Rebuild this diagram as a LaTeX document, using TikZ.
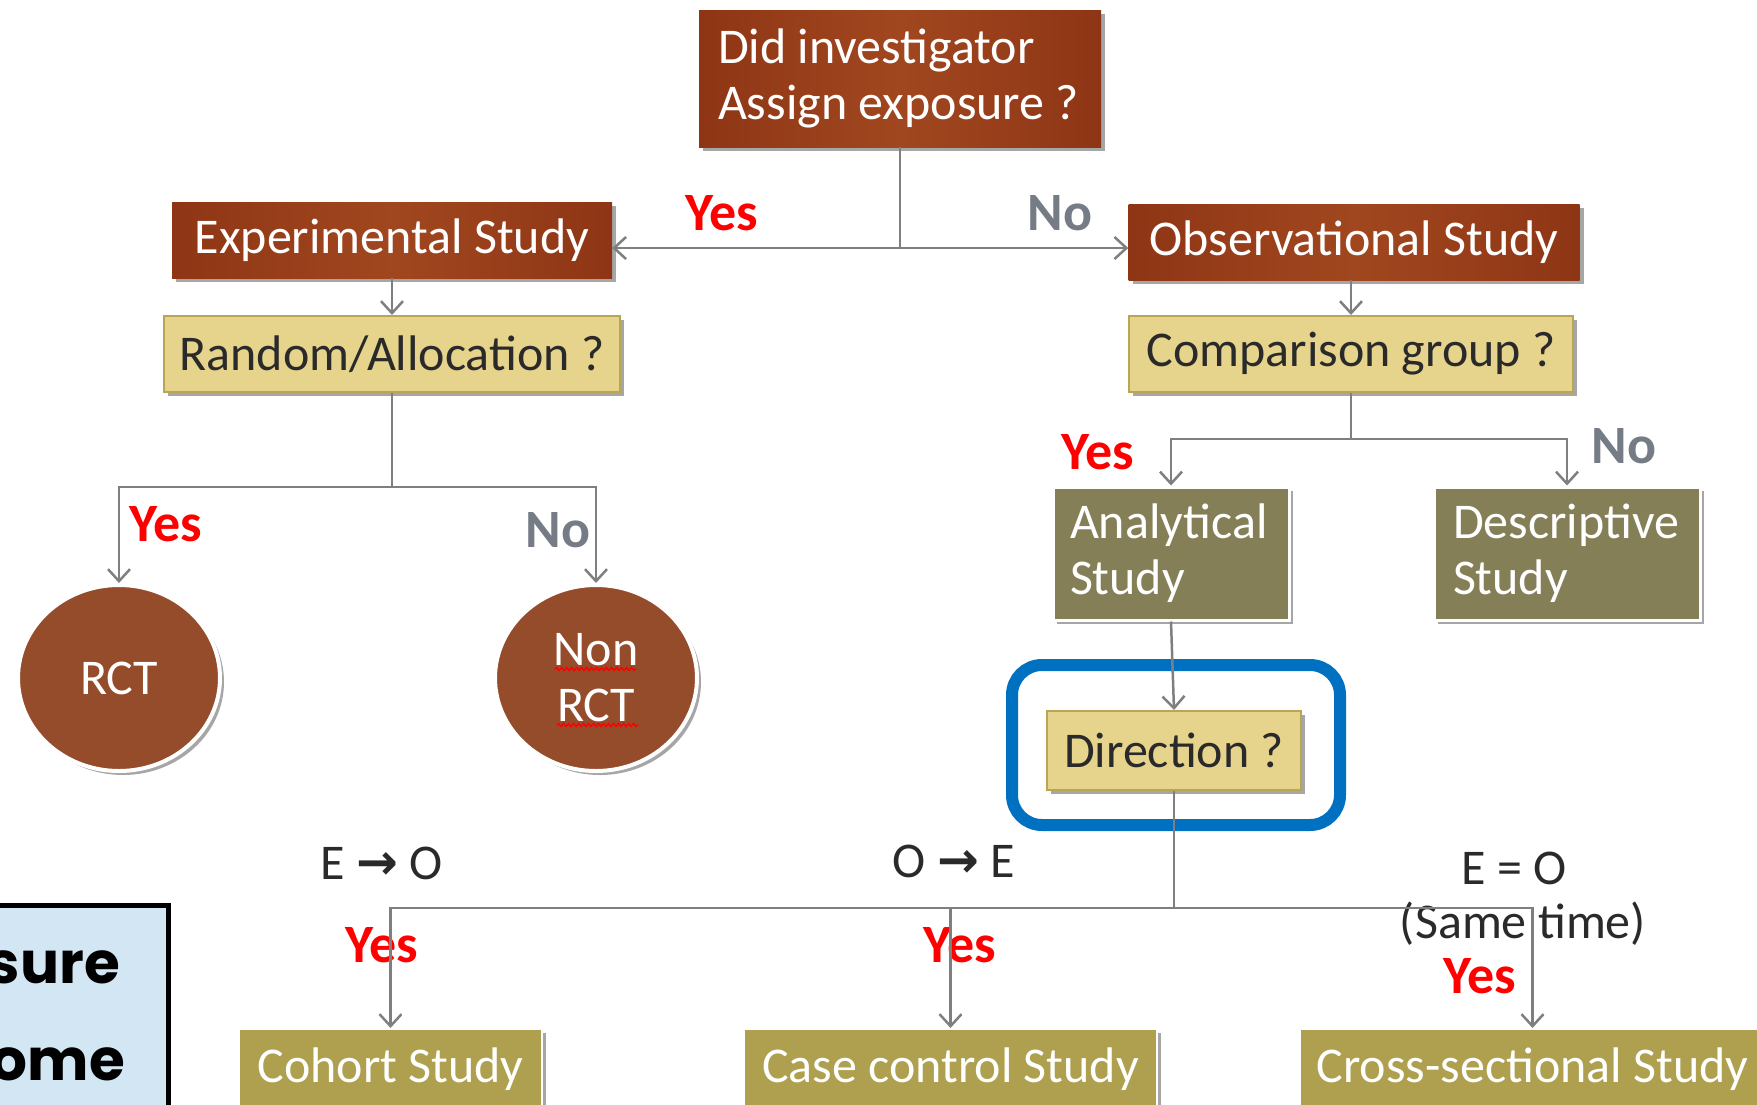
\documentclass[tikz,border=0pt]{standalone}
\usepackage{fontspec}
\setmainfont{Carlito}
\newfontfamily\dejavu{DejaVu Sans}
\newfontfamily\gothic{Poppins}
\usetikzlibrary{arrows.meta,shadows,shapes.geometric,decorations.pathmorphing}
\definecolor{cBrown}{HTML}{A1471F}
\definecolor{cBrownD}{HTML}{8E3515}
\definecolor{cYel}{HTML}{E6D38C}
\definecolor{cYelB}{HTML}{B8A655}
\definecolor{cOlive}{HTML}{857F58}
\definecolor{cGold}{HTML}{AFA04F}
\definecolor{cCirc}{HTML}{954C2B}
\definecolor{cBlue}{HTML}{0070C0}
\definecolor{cLight}{HTML}{D3E6F4}
\definecolor{cLine}{HTML}{7F7F7F}
\definecolor{cNo}{HTML}{767C86}
\definecolor{cTxt}{HTML}{2A2A2A}
\newcommand\myfs{\fontsize{50}{56}\selectfont}
\begin{document}
\begin{tikzpicture}[x=1pt,y=-1pt,
  shd/.style={drop shadow={shadow xshift=4pt,shadow yshift=-4pt,opacity=.35,fill=black}},
  bbox/.style={shd,left color=cBrownD,right color=cBrownD,middle color=cBrown,text=white,font=\myfs,inner sep=0},
  ybox/.style={shd,fill=cYel,draw=cYelB,line width=2,text=cTxt,font=\myfs,inner sep=0},
  obox/.style={shd,fill=cOlive,draw=white,line width=3,text=white,font=\myfs,inner ysep=0},
  gbox/.style={shd,fill=cGold,draw=white,line width=2,text=white,font=\myfs,inner sep=0},
  circ/.style={ellipse,shd,fill=cCirc,draw=white,line width=4,text=white,font=\myfs,minimum width=202,minimum height=186,inner sep=0,align=center},
  conn/.style={draw=cLine,line width=2.5},
  arr/.style={-{Straight Barb[length=12pt,width=22pt,line width=2.5pt]}},
  yes/.style={text=red,font=\fontsize{54}{58}\selectfont\bfseries,inner sep=0},
  nolab/.style={text=cNo,font=\fontsize{54}{58}\selectfont\bfseries,inner sep=0},
  lab/.style={text=cTxt,font=\myfs,inner sep=0}]
\useasboundingbox (0,0) rectangle (1757,1104);
\clip (0,0) rectangle (1757,1104);
% boxes
\node[bbox,minimum width=402,minimum height=137,text width=364,inner xsep=19,align=left] (top) at (900,78.5) {\spaceskip=0pt\relax Did investigator\\Assign exposure ?};
\node[bbox,minimum width=440,minimum height=76] (exp) at (392,240) {Experimental Study};
\node[bbox,minimum width=451,minimum height=76] (obs) at (1354,242) {Observational Study};
\node[ybox,minimum width=456,minimum height=76] (rand) at (392,354) {Random/Allocation ?};
\node[ybox,minimum width=444,minimum height=76] (comp) at (1351,354) {Comparison group ?};
\node[circ] (rct) at (119,678) {RCT};
\node[circ] (non) at (596,678) {Non\\RCT};
\node[obox,minimum width=236,minimum height=133,text width=202,inner xsep=17,align=left] (anal) at (1171,553.5) {\spaceskip=0pt\relax Analytical\\Study};
\node[obox,minimum width=266,minimum height=133,text width=228,inner xsep=19,align=left] (desc) at (1567,553.5) {\spaceskip=0pt\relax Descriptive\\Study};
\node[ybox,minimum width=254,minimum height=79] (dir) at (1174,750.5) {Direction ?};
\node[draw=cBlue,line width=12,rounded corners=30,minimum width=328,minimum height=160,inner sep=0] (hl) at (1176,745) {};
\node[gbox,minimum width=303,minimum height=80] (coh) at (390.5,1069) {Cohort Study};
\node[gbox,minimum width=413,minimum height=80] (cc) at (950.5,1069) {Case control Study};
\node[gbox,minimum width=465,minimum height=80] (cs) at (1532.5,1069) {Cross-sectional Study};
% left box
\node[draw=black,fill=cLight,line width=5,minimum width=184,minimum height=230,anchor=north west,inner sep=0] (lb) at (-18,903) {};
\node[anchor=base east,inner sep=0,font=\gothic\bfseries\fontsize{58}{60}\selectfont] (t1) at (120,983) {sure};
\node[anchor=base east,inner sep=0,font=\gothic\bfseries\fontsize{58}{60}\selectfont] (t2) at (125,1080) {ome};
% spell-check squiggles
\draw[red,line width=1.5,decorate,decoration={snake,amplitude=1.5pt,segment length=5pt}] (555,669) -- (636,669);
\draw[red,line width=1.5,decorate,decoration={snake,amplitude=1.5pt,segment length=5pt}] (557,725) -- (638,725);
% labels
\node[yes] (y1) at (722,213) {Yes};
\node[nolab] (n1) at (1060,213) {No};
\node[yes] (y2) at (166,524) {Yes};
\node[nolab] (n2) at (558,530) {No};
\node[yes] (y3) at (1098,452) {Yes};
\node[nolab] (n3) at (1624,446) {No};
\node[lab] (eo) at (382,863) {E {\dejavu\bfseries →} O};
\node[lab] (oe) at (954,861) {O {\dejavu\bfseries →} E};
\node[lab] (eq) at (1514,868) {E = O};
\node[lab] (st) at (1523,924) {(Same time)};
\node[yes] (y4) at (382,945) {Yes};
\node[yes] (y5) at (960,945) {Yes};
\node[yes] (y6) at (1480,976) {Yes};
% connectors
\coordinate (j1) at (900,248);
\draw[conn] (top.south) -- (j1);
\draw[conn,arr] (j1) -- (exp.east |- j1);
\draw[conn,arr] (j1) -- (obs.west |- j1);
\draw[conn,arr] (exp.south) -- (rand.north);
\draw[conn,arr] (comp.north |- obs.south) -- (comp.north);
\coordinate (j2) at (392,487);
\draw[conn] (rand.south) -- (j2);
\draw[conn,arr] (j2) -| (rct.north);
\draw[conn,arr] (j2) -| (non.north);
\coordinate (j3) at (1351,439);
\draw[conn] (comp.south) -- (j3);
\draw[conn,arr] (j3) -| (anal.north);
\draw[conn,arr] (j3) -| (desc.north);
\draw[conn,arr] (anal.south) -- (dir.north);
\coordinate (j4) at (1174,908);
\draw[conn] (dir.south) -- (j4);
\draw[conn,arr] (j4) -| (coh.north);
\draw[conn,arr] (j4) -| (cc.north);
\draw[conn,arr] (j4) -| (cs.north);
\end{tikzpicture}
\end{document}
